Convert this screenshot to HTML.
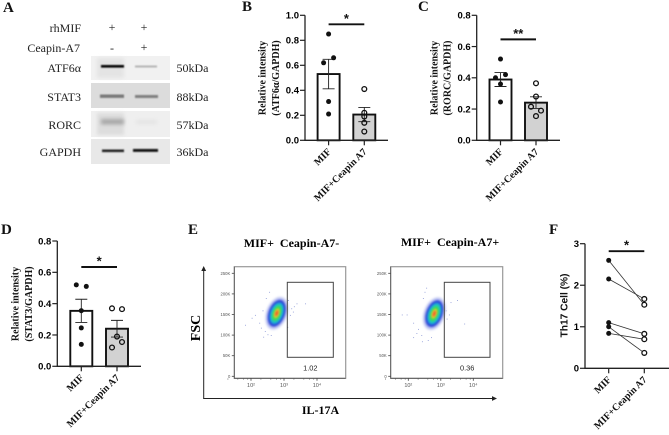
<!DOCTYPE html>
<html lang="en">
<head>
<meta charset="utf-8">
<title>Western blot, bar charts and flow cytometry figure</title>
<style>
html,body{margin:0;padding:0;background:#fff;width:669px;height:435px;overflow:hidden}
svg{position:absolute;left:0;top:0;display:block;filter:blur(0.3px)}
text{white-space:pre}
.letter{font:bold 15px "Liberation Serif",serif;fill:#111}
.wb{font:12px "Liberation Serif",serif;fill:#222}
.flowtitle{font:bold 12px "Liberation Serif",serif;fill:#000}
</style>
</head>
<body>
<svg id="figure" xmlns="http://www.w3.org/2000/svg" width="669" height="435" viewBox="0 0 669 435">
  <defs>
    <filter id="b1" x="-30%" y="-150%" width="160%" height="400%"><feGaussianBlur stdDeviation="0.8"/></filter>
    <filter id="b2" x="-30%" y="-100%" width="160%" height="300%"><feGaussianBlur stdDeviation="1.8"/></filter>
    <filter id="b3" x="-50%" y="-50%" width="200%" height="200%"><feGaussianBlur stdDeviation="1"/></filter>
    <marker id="arrow-head" markerWidth="6" markerHeight="6" refX="1" refY="3" orient="auto"><path d="M0,0.6 L5,3 L0,5.4 Z" fill="#222"/></marker>
  </defs>

  <!-- panel letters -->
  <text class="letter" x="3" y="12">A</text>
  <text class="letter" x="242" y="11">B</text>
  <text class="letter" x="418" y="11">C</text>
  <text class="letter" x="1" y="234">D</text>
  <text class="letter" x="188" y="234">E</text>
  <text class="letter" x="549" y="234">F</text>

  <!-- western blot -->
  <g>
    <text class="wb" x="81" y="32" text-anchor="end">rhMIF</text>
    <text class="wb" x="80" y="52" text-anchor="end">Ceapin-A7</text>
    <text class="wb" x="112" y="31" text-anchor="middle">+</text>
    <text class="wb" x="144" y="31" text-anchor="middle">+</text>
    <text class="wb" x="112" y="52" text-anchor="middle">-</text>
    <text class="wb" x="144" y="51" text-anchor="middle">+</text>

    <text class="wb" x="81" y="72" text-anchor="end">ATF6α</text>
    <text class="wb" x="81" y="101" text-anchor="end">STAT3</text>
    <text class="wb" x="81" y="129" text-anchor="end">RORC</text>
    <text class="wb" x="81" y="156" text-anchor="end">GAPDH</text>
    <text class="wb" x="176.5" y="72">50kDa</text>
    <text class="wb" x="176.5" y="101">88kDa</text>
    <text class="wb" x="176.5" y="129">57kDa</text>
    <text class="wb" x="176.5" y="156">36kDa</text>

    <rect x="91" y="56" width="79" height="24" fill="#f1f1f1"/>
    <rect x="91" y="83" width="79" height="25" fill="#dcdcdc"/>
    <rect x="91" y="111" width="79" height="26" fill="#efefef"/>
    <rect x="91" y="139" width="79" height="25" fill="#e8e8e8"/>

    <rect x="97" y="58" width="27" height="20" fill="#e4e4e4" filter="url(#b2)"/>
    <rect x="97" y="113" width="27" height="22" fill="#dddddd" filter="url(#b2)"/>

    <rect x="101" y="65" width="23" height="2.6" fill="#000" filter="url(#b1)"/>
    <rect x="135" y="65.5" width="22" height="2" fill="#b4b4b4" filter="url(#b1)"/>
    <rect x="100" y="94.5" width="24" height="3.4" fill="#787878" filter="url(#b1)"/>
    <rect x="135" y="95" width="23" height="3" fill="#808080" filter="url(#b1)"/>
    <rect x="101" y="119" width="23" height="5.5" fill="#a8a8a8" filter="url(#b2)"/>
    <rect x="136" y="120" width="21" height="4" fill="#e4e4e4" filter="url(#b2)"/>
    <rect x="102" y="149.5" width="22" height="2.6" fill="#222" filter="url(#b1)"/>
    <rect x="133" y="149" width="25" height="2.8" fill="#0a0a0a" filter="url(#b1)"/>
  </g>

  <!-- flow big axes -->
  <g>
    <text class="flowtitle" x="291.5" y="247" text-anchor="middle">MIF+  Ceapin-A7-</text>
    <text class="flowtitle" x="450" y="246" text-anchor="middle">MIF+  Ceapin-A7+</text>
    <line x1="203.7" y1="398.5" x2="203.7" y2="270" stroke="#222" stroke-width="1" marker-end="url(#arrow-head)"/>
    <line x1="203.2" y1="398.5" x2="493" y2="398.5" stroke="#222" stroke-width="1" marker-end="url(#arrow-head)"/>
    <text transform="translate(200,328) rotate(-90)" text-anchor="middle" style="font:bold 14px 'Liberation Serif',serif" fill="#000">FSC</text>
    <text x="320.5" y="414" text-anchor="middle" style="font:bold 12px 'Liberation Serif',serif" fill="#000">IL-17A</text>
  </g>
</svg>

<script>
/* ---------- chart data ---------- */
var categories = ['MIF', 'MIF+Ceapin A7'];

var atf6MifValues = [0.85, 0.66, 0.62, 0.31, 0.21];
var atf6CeapinValues = [0.41, 0.22, 0.19, 0.14, 0.07];
var atf6SwarmSlots = [0, 1, -1, 0, 0];
var atf6CeapinSlots = [0, 0, 0, 0, 0];
var atf6Ticks = [0, 0.2, 0.4, 0.6, 0.8, 1.0];

var rorcMifValues = [0.52, 0.42, 0.40, 0.36, 0.245];
var rorcCeapinValues = [0.365, 0.28, 0.215, 0.19, 0.155];
var rorcSwarmSlots = [0, 1, -1, 0, 0];
var rorcCeapinSlots = [0, 0, -1, 1, 0];
var rorcTicks = [0, 0.2, 0.4, 0.6, 0.8];

var stat3MifValues = [0.52, 0.51, 0.355, 0.245, 0.14];
var stat3CeapinValues = [0.37, 0.365, 0.19, 0.155, 0.12];
var stat3SwarmSlots = [-1, 1, 0, 0, 0];
var stat3CeapinSlots = [-1, 1, 0, 1, -1];
var stat3Ticks = [0, 0.2, 0.4, 0.6, 0.8];

var th17MifValues = [2.6, 2.15, 1.1, 1.0, 0.84];
var th17CeapinValues = [1.53, 1.67, 0.83, 0.37, 0.7];
var th17Ticks = [0, 1, 2, 3];

var flowYTicks = [0, 50, 100, 150, 200, 250];
var flowYLabels = ['0', '50K', '100K', '150K', '200K', '250K'];
var flowXDecades = [2, 3, 4];
var flowXLabels = ['10²', '10³', '10⁴'];

var flowLeftEvents = [[2.12,149],[2.37,96],[3.38,177],[3.64,177],[1.82,125],[2.02,142],[3.27,157],[3.18,149],[2.42,110],[2.3,118],[2.25,130],[2.5,102],[3.22,165],[3.3,170],[2.35,160],[3.12,185],[2.45,190],[2.6,100],[3.1,120],[2.55,205]];
var flowRightEvents = [[1.8,150],[1.95,150],[2.15,130],[2.15,95],[2.42,85],[2.6,88],[2.3,115],[2.25,105],[3.3,180],[3.5,185],[3.15,160],[3.25,150],[3.72,128],[3.1,175],[2.45,190],[2.55,215],[3.18,140],[2.4,100],[2.5,205],[2.7,95]];
var flowLeftPercent = ['1.02'];
var flowRightPercent = ['0.36'];

/* ---------- helpers ---------- */
var NS = 'http://www.w3.org/2000/svg';
var figure = document.getElementById('figure');

function make(tag, parent, attrs) {
  var node = document.createElementNS(NS, tag);
  for (var key in attrs) { node.setAttribute(key, attrs[key]); }
  parent.appendChild(node);
  return node;
}
function mean(v) { return v.reduce(function (a, b) { return a + b; }, 0) / v.length; }
function sem(v) {
  var m = mean(v);
  var s = v.reduce(function (a, b) { return a + (b - m) * (b - m); }, 0);
  return Math.sqrt(s / (v.length - 1)) / Math.sqrt(v.length);
}

function drawAxes(g, o, y) {
  var el = make('line', g, {x1: o.axisX, x2: o.axisX, y1: y(o.yMax), y2: o.y0 + 0.6, stroke: '#222', 'stroke-width': 1.3});
  
  
  el = make('line', g, {x1: o.axisX - 0.6, x2: o.axisEnd, y1: o.y0, y2: o.y0, stroke: '#222', 'stroke-width': 1.3});
  
  
  o.ticks.forEach(function (t) {
    var tick = make('line', g, {x1: o.axisX - 5, x2: o.axisX, y1: y(t), y2: y(t), stroke: '#222', 'stroke-width': 1.2});
    
    
    var label = make('text', g, {x: o.axisX - 6, y: y(t) + 3.4, 'text-anchor': 'end', fill: '#000', style: 'font:bold 9.5px "Liberation Sans",sans-serif'});
    label.textContent = o.tickDigits ? t.toFixed(o.tickDigits) : String(t);
    
    
  });
  o.cx.forEach(function (c, i) {
    var tick = make('line', g, {x1: c, x2: c, y1: o.y0, y2: o.y0 + 5, stroke: '#222', 'stroke-width': 1.2});
    
    
    var label = make('text', g, {
      transform: 'translate(' + (c + 3) + ',' + (o.y0 + 12) + ') rotate(-45)',
      'text-anchor': 'end', fill: '#111', style: 'font:bold 10px "Liberation Serif",serif'
    });
    label.textContent = categories[i];
    
    
  });
}

function drawSig(g, o, y) {
  var el = make('line', g, {x1: o.cx[0], x2: o.cx[1], y1: y(o.sigLevel), y2: y(o.sigLevel), stroke: '#111', 'stroke-width': 1.9});
  
  
  var star = make('text', g, {x: (o.cx[0] + o.cx[1]) / 2, y: y(o.sigLevel) - 1.5, 'text-anchor': 'middle', fill: '#111', style: 'font:bold 13px "Liberation Sans",sans-serif'});
  star.textContent = o.sig;
  
  
}

function drawTitle(g, lines, xs, cy, css) {
  lines.forEach(function (line, i) {
    var t = make('text', g, {transform: 'translate(' + xs[i] + ',' + cy + ') rotate(-90)', 'text-anchor': 'middle', fill: '#111', style: css});
    t.textContent = line;
    
    
  });
}

function barChart(o) {
  var g = make('g', figure, {});
  
  
  var y = function (v) { return o.y0 - v / o.yMax * o.h; };
  var groups = [o.a, o.b];
  var slots = [o.aSlots, o.bSlots];
  groups.forEach(function (vals, i) {
    var m = mean(vals);
    var bar = make('rect', g, {x: o.cx[i] - 11, y: y(m), width: 22, height: o.y0 - y(m), fill: i ? '#d2d2d2' : '#fff', stroke: '#111', 'stroke-width': 1.9});
    
    
  });
  drawAxes(g, o, y);
  groups.forEach(function (vals, i) {
    var m = mean(vals), e = sem(vals), c = o.cx[i];
    var err = make('path', g, {
      d: 'M' + (c - 6) + ' ' + y(m + e) + 'H' + (c + 6) + 'M' + c + ' ' + y(m + e) + 'V' + y(m - e) + 'M' + (c - 6) + ' ' + y(m - e) + 'H' + (c + 6),
      fill: 'none', stroke: '#222', 'stroke-width': 0.9
    });
    
    
    vals.forEach(function (v, k) {
      var px = c + slots[i][k] * 5;
      var dot = i
        ? make('circle', g, {cx: px, cy: y(v), r: 2.4, fill: 'none', stroke: '#111', 'stroke-width': 1.3})
        : make('circle', g, {cx: px, cy: y(v), r: 2.5, fill: '#111'});
      
      
    });
  });
  drawSig(g, o, y);
  drawTitle(g, o.title, o.titleX, o.titleY, 'font:bold 10px "Liberation Serif",serif');
}

barChart({name: 'atf6-bar-chart', a: atf6MifValues, b: atf6CeapinValues, aSlots: atf6SwarmSlots, bSlots: atf6CeapinSlots,
  ticks: atf6Ticks, tickDigits: 1, yMax: 1, axisX: 305, axisEnd: 388, y0: 140.3, h: 125, cx: [328.6, 364.3],
  sig: '*', sigLevel: 0.928, title: ['Relative intensity', '(ATF6α/GAPDH)'], titleX: [265.5, 279], titleY: 78});
barChart({name: 'rorc-bar-chart', a: rorcMifValues, b: rorcCeapinValues, aSlots: rorcSwarmSlots, bSlots: rorcCeapinSlots,
  ticks: rorcTicks, tickDigits: 1, yMax: 0.8, axisX: 476.7, axisEnd: 560, y0: 140.3, h: 125, cx: [500.5, 536],
  sig: '**', sigLevel: 0.646, title: ['Relative intensity', '(RORC/GAPDH)'], titleX: [437.5, 450.5], titleY: 78});
barChart({name: 'stat3-bar-chart', a: stat3MifValues, b: stat3CeapinValues, aSlots: stat3SwarmSlots, bSlots: stat3CeapinSlots,
  ticks: stat3Ticks, tickDigits: 1, yMax: 0.8, axisX: 57.3, axisEnd: 141, y0: 366.3, h: 125.3, cx: [81.3, 117],
  sig: '*', sigLevel: 0.634, title: ['Relative intensity', '(STAT3/GAPDH)'], titleX: [18.5, 32], titleY: 304});

/* paired plot F */
(function () {
  var o = {ticks: th17Ticks, tickDigits: 0, yMax: 3, axisX: 585, axisEnd: 669, y0: 368.3, h: 124.6, cx: [608.7, 644.3], sig: '*', sigLevel: 2.82};
  var g = make('g', figure, {});
  
  
  var y = function (v) { return o.y0 - v / o.yMax * o.h; };
  drawAxes(g, o, y);
  th17MifValues.forEach(function (v, i) {
    var w = th17CeapinValues[i];
    var link = make('line', g, {x1: o.cx[0], y1: y(v), x2: o.cx[1], y2: y(w), stroke: '#333', 'stroke-width': 0.8});
    
    
    var p1 = make('circle', g, {cx: o.cx[0], cy: y(v), r: 2.5, fill: '#111'});
    
    
    var p2 = make('circle', g, {cx: o.cx[1], cy: y(w), r: 2.4, fill: '#fff', stroke: '#111', 'stroke-width': 1.3});
    
    
  });
  drawSig(g, o, y);
  drawTitle(g, ['Th17 Cell (%)'], [567.5], 305.5, 'font:bold 10.2px "Liberation Sans",sans-serif');
})();

/* flow plots */
function flowPlot(name, left, right, x10, xStep, gateFromX, gateToX, centerLog, centerK, events, percent) {
  var top = 266.7, bottom = 378.3;
  var g = make('g', figure, {});
  
  
  var fx = function (log) { return x10 + (log - 2) * xStep; };
  var fy = function (k) { return 376.3 - k / 50 * 20.6; };

  var frame = make('rect', g, {x: left, y: top, width: right - left, height: bottom - top, fill: '#fff', stroke: '#999', 'stroke-width': 1.2});
  
  
  var axisL = make('path', g, {d: 'M' + left + ' ' + top + 'V' + bottom + 'H' + right, fill: 'none', stroke: '#555', 'stroke-width': 0.8});
  
  

  flowYTicks.forEach(function (k, i) {
    var t = make('line', g, {x1: left - 2.5, x2: left, y1: fy(k), y2: fy(k), stroke: '#444', 'stroke-width': 0.8});
    
    
    var l = make('text', g, {x: left - 4, y: fy(k) + 1.5, 'text-anchor': 'end', fill: '#555', style: 'font:4.2px "Liberation Sans",sans-serif'});
    l.textContent = flowYLabels[i];
    
    
  });
  flowXDecades.forEach(function (d, i) {
    var t = make('line', g, {x1: fx(d), x2: fx(d), y1: bottom, y2: bottom + 2.5, stroke: '#444', 'stroke-width': 0.8});
    
    
    for (var m = 2; m < 10; m += 2) {
      var minor = make('line', g, {x1: fx(d + Math.log10(m) - 1), x2: fx(d + Math.log10(m) - 1), y1: bottom, y2: bottom + 1.5, stroke: '#555', 'stroke-width': 0.5});
      
      
    }
    var l = make('text', g, {x: fx(d), y: bottom + 8.5, 'text-anchor': 'middle', fill: '#555', style: 'font:5.5px "Liberation Sans",sans-serif'});
    l.textContent = flowXLabels[i];
    
    
  });

  events.forEach(function (e) {
    var s = make('rect', g, {x: fx(e[0]), y: fy(e[1]), width: 0.9, height: 0.9, fill: '#8f9bd8'});
    
    
  });

  var cx = fx(centerLog), cy = fy(centerK);
  var density = make('g', g, {transform: 'rotate(20 ' + cx + ' ' + cy + ')'});
  
  
  [[10.5, 17, '#c4caf3'], [8.2, 14, '#2f3fd6'], [6.4, 11.5, '#1f9fe0'], [5, 9.5, '#22d0b0'], [3.7, 7.5, '#40d850'], [2.4, 5, '#e8e030'], [1.4, 3.4, '#f0502a']].forEach(function (r) {
    var e = make('ellipse', density, {cx: cx, cy: cy, rx: r[0], ry: r[1], fill: r[2], filter: 'url(#b3)'});
    
    
  });

  var gate = make('rect', g, {x: gateFromX, y: 282.3, width: gateToX - gateFromX, height: 75, fill: 'none', stroke: '#444', 'stroke-width': 1});
  
  
  var pct = make('text', g, {x: (gateFromX + gateToX) / 2, y: 370.3, 'text-anchor': 'middle', fill: '#222', style: 'font:7.4px "Liberation Sans",sans-serif'});
  pct.textContent = percent[0];
  
  
}
flowPlot('flow-plot-ceapin-negative', 234.3, 345.7, 251, 33, 287.3, 333.3, 2.78, 153, flowLeftEvents, flowLeftPercent);
flowPlot('flow-plot-ceapin-positive', 390.7, 502.7, 408.3, 32.5, 444.3, 490, 2.8, 152, flowRightEvents, flowRightPercent);
</script>
</body>
</html>
